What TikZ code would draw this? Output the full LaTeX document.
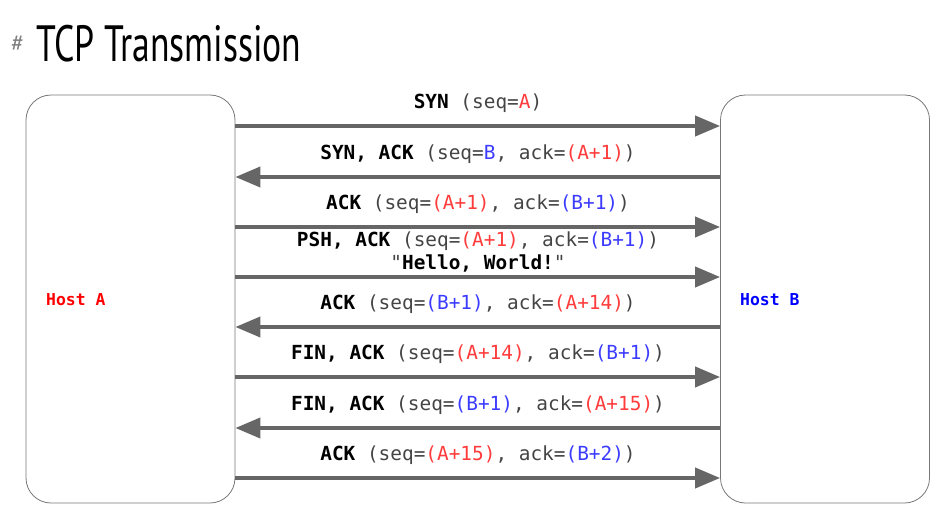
\documentclass[tikz,border=0pt]{standalone}
\usepackage{fontspec}
\setmainfont{PT Sans}
\setmonofont{DejaVu Sans Mono}
\usetikzlibrary{arrows.meta}
\definecolor{arrowgray}{HTML}{666666}
\definecolor{boxgray}{HTML}{777777}
\definecolor{txtgray}{HTML}{444444}
\definecolor{myred}{HTML}{FF3B3B}
\definecolor{myblue}{HTML}{3B3BFF}
\newcommand{\kw}[1]{{\bfseries\color{black}#1}}
\newcommand{\pl}[1]{{\color{txtgray}#1}}
\newcommand{\ra}[1]{{\color{myred}#1}}
\newcommand{\bl}[1]{{\color{myblue}#1}}
\tikzset{
  host/.style={draw=boxgray, line width=0.8pt, rounded corners=25pt, minimum width=209pt, minimum height=408pt, inner sep=0pt},
  msg/.style={draw=arrowgray, line width=4pt, -{Triangle[length=25pt,width=20pt]}},
  lbl/.style={font=\fontsize{19.4}{23}\selectfont\ttfamily, inner sep=0pt, align=center},
  hostlbl/.style={font=\fontsize{16.4}{19}\selectfont\ttfamily\bfseries, inner sep=0pt, anchor=west}
}
\begin{document}
\begin{tikzpicture}[x=1pt,y=-1pt]
\useasboundingbox (0,0) rectangle (951,514);
\node[anchor=west, inner sep=0pt, text=gray, font=\fontsize{24}{24}\selectfont] (hash) at (11,44) {\#};
\node[anchor=west, inner sep=0pt, font=\fontsize{51}{51}\selectfont] (title) at (36,44) {\scalebox{0.7}[1]{TCP Transmission}};
\node[host] (hostA) at (130.5,299) {};
\node[host] (hostB) at (825,299) {};
\node[hostlbl, text=red] (la) at (46,300) {Host A};
\node[hostlbl, text=blue] (lb) at (740,300) {Host B};
\foreach \n/\y in {1/126,2/177,3/227,4/277,5/327,6/377,7/428,8/478}{
  \coordinate (y\n) at (0,\y);
}
\draw[msg] (hostA.east |- y1) -- (hostB.west |- y1);
\draw[msg] (hostB.west |- y2) -- (hostA.east |- y2);
\draw[msg] (hostA.east |- y3) -- (hostB.west |- y3);
\draw[msg] (hostA.east |- y4) -- (hostB.west |- y4);
\draw[msg] (hostB.west |- y5) -- (hostA.east |- y5);
\draw[msg] (hostA.east |- y6) -- (hostB.west |- y6);
\draw[msg] (hostB.west |- y7) -- (hostA.east |- y7);
\draw[msg] (hostA.east |- y8) -- (hostB.west |- y8);
\node[lbl] (t1) at (478,103) {\kw{SYN} \pl{(seq=}\ra{A}\pl{)}};
\node[lbl] (t2) at (478,154) {\kw{SYN, ACK} \pl{(seq=}\bl{B}\pl{, ack=}\ra{(A+1)}\pl{)}};
\node[lbl] (t3) at (478,204) {\kw{ACK} \pl{(seq=}\ra{(A+1)}\pl{, ack=}\bl{(B+1)}\pl{)}};
\node[lbl] (t4) at (478,241) {\kw{PSH, ACK} \pl{(seq=}\ra{(A+1)}\pl{, ack=}\bl{(B+1)}\pl{)}};
\node[lbl] (t4b) at (478,263) {\pl{"}\kw{Hello, World!}\pl{"}};
\node[lbl] (t5) at (478,304) {\kw{ACK} \pl{(seq=}\bl{(B+1)}\pl{, ack=}\ra{(A+14)}\pl{)}};
\node[lbl] (t6) at (478,354) {\kw{FIN, ACK} \pl{(seq=}\ra{(A+14)}\pl{, ack=}\bl{(B+1)}\pl{)}};
\node[lbl] (t7) at (478,405) {\kw{FIN, ACK} \pl{(seq=}\bl{(B+1)}\pl{, ack=}\ra{(A+15)}\pl{)}};
\node[lbl] (t8) at (478,455) {\kw{ACK} \pl{(seq=}\ra{(A+15)}\pl{, ack=}\bl{(B+2)}\pl{)}};
\end{tikzpicture}
\end{document}
